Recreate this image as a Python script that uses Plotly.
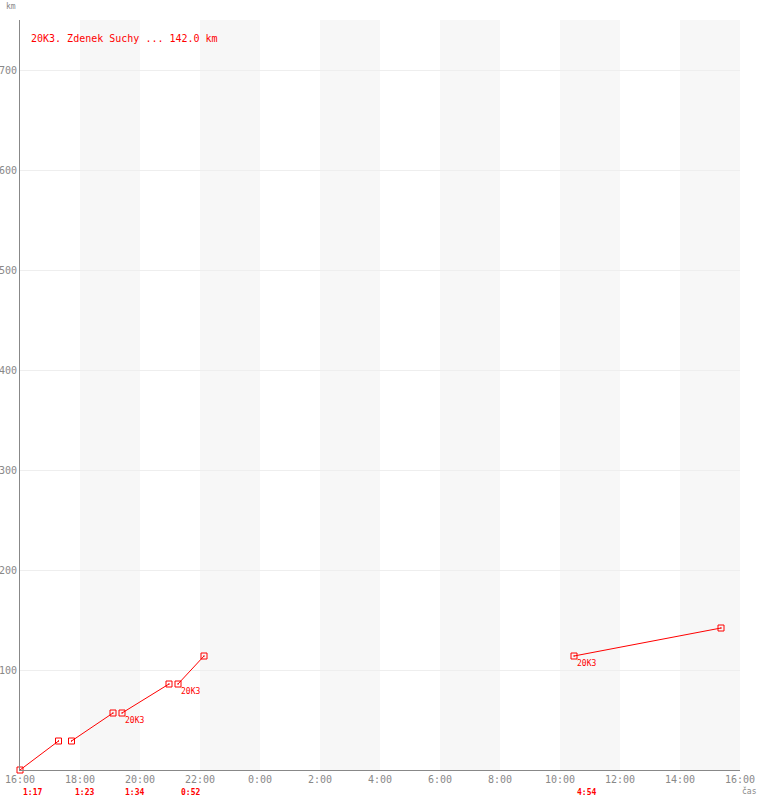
import plotly.graph_objects as go
from datetime import datetime, timedelta

# ---- data ----
seg_start = ["2000-01-01 16:00", "2000-01-01 17:43", "2000-01-01 19:24", "2000-01-01 21:16", "2000-01-02 10:28"]
seg_end = ["2000-01-01 17:17", "2000-01-01 19:06", "2000-01-01 20:58", "2000-01-01 22:08", "2000-01-02 15:22"]
km_start = [0, 29, 57, 86, 114]
km_end = [29, 57, 86, 114, 142]
durations = ["1:17", "1:23", "1:34", "0:52", "4:54"]
checkpoint = ["", "", "20K3", "20K3", "20K3"]
title_text = "20K3. Zdenek Suchy ... 142.0 km"
y_ticks = [100, 200, 300, 400, 500, 600, 700]
x_range = ["2000-01-01 16:00", "2000-01-02 16:00"]
band_starts = ["2000-01-01 18:00", "2000-01-01 22:00", "2000-01-02 02:00",
               "2000-01-02 06:00", "2000-01-02 10:00", "2000-01-02 14:00"]

RED = "#ff0000"
GRAY = "#888888"
FONT = "DejaVu Sans Mono"

lx, ly = [], []
for s, e, a, b in zip(seg_start, seg_end, km_start, km_end):
    lx += [s, e, None]
    ly += [a, b, None]

fig = go.Figure()
fig.add_trace(go.Scatter(
    x=lx, y=ly, mode="lines+markers",
    line=dict(color=RED, width=1),
    marker=dict(symbol="square-open-dot", size=6, color=RED, line=dict(width=1, color=RED)),
    connectgaps=False, hoverinfo="skip", showlegend=False, cliponaxis=False,
))

shapes = []
for bs in band_starts:
    t0 = datetime.strptime(bs, "%Y-%m-%d %H:%M")
    t1 = t0 + timedelta(hours=2)
    shapes.append(dict(type="rect", xref="x", yref="paper",
                       x0=t0.strftime("%Y-%m-%d %H:%M"), x1=t1.strftime("%Y-%m-%d %H:%M"),
                       y0=0, y1=1, fillcolor="#f7f7f7", line=dict(width=0), layer="below"))

annotations = [
    dict(text=title_text, xref="paper", yref="paper", x=0.0125, y=0.976,
         xanchor="left", yanchor="middle", showarrow=False,
         font=dict(family=FONT, size=10, color=RED)),
    dict(text="km", xref="paper", yref="paper", x=-16/720, y=(770 - 7) / 750,
         xanchor="left", yanchor="middle", showarrow=False,
         font=dict(family=FONT, size=8, color=GRAY)),
    dict(text="čas", xref="paper", yref="paper", x=1.0, y=(770 - 791) / 750,
         xanchor="left", yanchor="middle", showarrow=False,
         font=dict(family=FONT, size=8, color=GRAY)),
]
for s, d in zip(seg_start, durations):
    annotations.append(dict(text="<b>" + d + "</b>", xref="x", yref="y", x=s, y=0,
                            xanchor="left", yanchor="middle", xshift=1, yshift=-22,
                            showarrow=False, font=dict(family=FONT, size=8, color=RED)))
for s, k, c in zip(seg_start, km_start, checkpoint):
    if c:
        annotations.append(dict(text=c, xref="x", yref="y", x=s, y=k,
                                xanchor="left", yanchor="middle", xshift=1, yshift=-7,
                                showarrow=False, font=dict(family=FONT, size=8, color=RED)))

fig.update_layout(
    width=760, height=800,
    margin=dict(l=20, r=20, t=20, b=30, autoexpand=False),
    paper_bgcolor="white", plot_bgcolor="white",
    shapes=shapes, annotations=annotations,
    xaxis=dict(type="date", range=x_range, tickformat="%-H:%M", dtick=2 * 3600 * 1000,
               tick0="2000-01-01 16:00", showgrid=False, zeroline=False, automargin=False,
               showline=True, linecolor=GRAY, linewidth=1, ticks="",
               tickfont=dict(family=FONT, size=10, color=GRAY), fixedrange=True),
    yaxis=dict(range=[0, 750], tickvals=y_ticks, showgrid=True, gridcolor="#eeeeee",
               gridwidth=1, zeroline=False, showline=True, linecolor=GRAY, linewidth=1,
               automargin=False, ticks="", tickfont=dict(family=FONT, size=10, color=GRAY),
               fixedrange=True),
)

fig.write_html("out.html", config={"displayModeBar": False},
               post_script="document.body.style.margin='0';document.body.style.overflow='hidden';")
